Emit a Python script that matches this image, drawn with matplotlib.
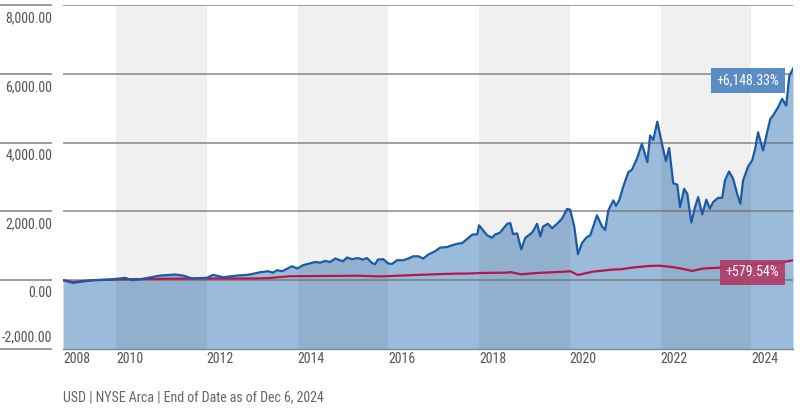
import os
import matplotlib
matplotlib.use("Agg")
import matplotlib.pyplot as plt
from matplotlib import font_manager
from matplotlib.font_manager import FontProperties

# ---------------- data ----------------
fund_dates = [2008.83, 2008.94, 2009.05, 2009.20, 2009.49, 2009.87, 2010.09, 2010.20, 2010.35, 2010.59,
              2010.97, 2011.30, 2011.48, 2011.67, 2012.00, 2012.14, 2012.36, 2012.67, 2012.89, 2013.02,
              2013.17, 2013.35, 2013.46, 2013.55, 2013.66, 2013.88, 2013.99, 2014.12, 2014.39, 2014.50,
              2014.61, 2014.72, 2014.83, 2015.00, 2015.09, 2015.20, 2015.33, 2015.44, 2015.53, 2015.64,
              2015.71, 2015.77, 2015.89, 2016.00, 2016.08, 2016.19, 2016.33, 2016.44, 2016.55, 2016.66,
              2016.77, 2016.88, 2017.03, 2017.14, 2017.30, 2017.36, 2017.52, 2017.63, 2017.85, 2017.96,
              2018.00, 2018.18, 2018.29, 2018.35, 2018.46, 2018.62, 2018.69, 2018.75, 2018.84, 2018.93,
              2019.02, 2019.13, 2019.19, 2019.28, 2019.35, 2019.41, 2019.52, 2019.61, 2019.72, 2019.83,
              2019.94, 2020.01, 2020.10, 2020.18, 2020.27, 2020.38, 2020.45, 2020.60, 2020.71, 2020.78,
              2020.85, 2020.96, 2021.02, 2021.09, 2021.18, 2021.29, 2021.37, 2021.48, 2021.59, 2021.71,
              2021.77, 2021.84, 2021.93, 2022.04, 2022.12, 2022.19, 2022.28, 2022.37, 2022.43, 2022.52,
              2022.59, 2022.68, 2022.76, 2022.83, 2022.92, 2023.01, 2023.09, 2023.16, 2023.27, 2023.36,
              2023.42, 2023.51, 2023.60, 2023.69, 2023.76, 2023.82, 2023.93, 2024.02, 2024.09, 2024.15,
              2024.26, 2024.35, 2024.42, 2024.48, 2024.59, 2024.68, 2024.77, 2024.84, 2024.92]
fund_values = [0, -40, -80, -50, 0, 20, 50, 70, 0, 40,
               135, 165, 135, 50, 70, 155, 85, 135, 155, 185,
               230, 260, 220, 290, 260, 405, 340, 435, 530, 510,
               560, 530, 630, 550, 660, 610, 645, 600, 645, 500,
               465, 600, 610, 485, 470, 580, 580, 630, 695, 695,
               630, 745, 840, 945, 965, 995, 1060, 1080, 1325, 1335,
               1595, 1305, 1235, 1325, 1380, 1640, 1660, 1340, 1360, 900,
               1235, 1340, 1420, 1640, 1275, 1560, 1640, 1510, 1640, 1790,
               2070, 2050, 1545, 755, 1080, 1260, 1300, 1885, 1565, 1460,
               2030, 2320, 2160, 2330, 2725, 3140, 3210, 3530, 3965, 3430,
               4205, 4080, 4610, 3915, 3460, 3845, 2820, 2775, 2125, 2655,
               2510, 1675, 2125, 2415, 1915, 2340, 2080, 2270, 2395, 2395,
               2900, 3160, 2950, 2510, 2225, 2900, 3305, 3480, 3845, 4300,
               3770, 4300, 4690, 4785, 5025, 5270, 5075, 5945, 6148.33]

index_dates = [2008.83, 2009.05, 2009.49, 2010.31, 2011.85, 2013.06, 2013.35, 2013.83, 2015.33, 2015.82,
               2016.48, 2017.08, 2017.47, 2017.80, 2018.02, 2018.62, 2018.69, 2018.93, 2019.28, 2019.85,
               2020.01, 2020.18, 2020.51, 2020.67, 2020.96, 2021.11, 2021.40, 2021.77, 2021.99, 2022.21,
               2022.43, 2022.70, 2022.94, 2023.38, 2023.60, 2023.91, 2024.26, 2024.64, 2024.92]
index_values = [0, -50, 0, 30, 50, 50, 60, 115, 130, 110,
                145, 175, 190, 195, 210, 220, 235, 170, 210, 245,
                260, 150, 250, 270, 310, 315, 370, 415, 420, 390,
                345, 270, 340, 370, 405, 435, 480, 510, 579.54]

y_ticks = [-2000, 0, 2000, 4000, 6000, 8000]
y_tick_labels = ["-2,000.00", "0.00", "2,000.00", "4,000.00", "6,000.00", "8,000.00"]
x_ticks = [2008.83, 2010, 2012, 2014, 2016, 2018, 2020, 2022, 2024]
x_tick_labels = ["2008", "2010", "2012", "2014", "2016", "2018", "2020", "2022", "2024"]
band_starts = [2010, 2014, 2018, 2022]
fund_label = "+6,148.33%"
index_label = "+579.54%"
footer = "USD | NYSE Arca | End of Date as of Dec 6, 2024"

# ---------------- font: prefer a condensed face ----------------
files = [f.fname for f in font_manager.fontManager.ttflist]
preferred = ["RobotoCondensed-Regular", "LiberationSansNarrow-Regular", "DejaVuSansCondensed.",
             "NotoSans-Condensed.", "NotoSans-CondensedRegular", "OpenSans-CondensedRegular",
             "OpenSans_Condensed-Regular", "NotoSansDisplay-Condensed."]
font_file = None
for p in preferred:
    for fn in files:
        if p in os.path.basename(fn):
            font_file = fn
            break
    if font_file:
        break
if font_file is None:
    bad = ("Bold", "Italic", "Oblique", "Light", "Thin", "Medium", "Black", "Semi", "Extra", "Ultra")
    for fn in files:
        b = os.path.basename(fn)
        if ("Condensed" in b or "Narrow" in b) and not any(k in b for k in bad):
            font_file = fn
            break


def fp(size):
    if font_file:
        return FontProperties(fname=font_file, size=size)
    return FontProperties(family="Roboto", size=size * 0.88)


W, H = 800, 409
fig = plt.figure(figsize=(W / 100, H / 100), dpi=100)
ax = fig.add_axes([63 / W, (H - 349) / H, 730 / W, 344 / H])
ax.set_xlim(x_ticks[0], fund_dates[-1])
ax.set_ylim(-2000, 8000)

blue = "#1b5aa6"
red = "#b8154a"
fill = "#9bbbdb"
text_col = "#555555"

ax.fill_between(fund_dates, -2000, fund_values, color=fill, lw=0, zorder=1)
for b in band_starts:
    ax.axvspan(b, b + 2, color="black", alpha=0.06, lw=0, zorder=2)
for v in y_ticks[1:]:
    ax.axhline(v, color="#6e6e6e", lw=1.2, alpha=0.75, zorder=3)
ax.plot(fund_dates, fund_values, color=blue, lw=1.6, zorder=5, solid_joinstyle="round")
ax.plot(index_dates, index_values, color=red, lw=1.6, zorder=4, solid_joinstyle="round")

# left-margin grid stubs and y labels
ax.hlines(y_ticks, -63 / 730, -11 / 730, transform=ax.get_yaxis_transform(),
          color="#8a8a8a", lw=1.2, clip_on=False)
ax.set_yticks([])
for v, lab in zip(y_ticks, y_tick_labels):
    if v == y_ticks[0]:
        off, va = (-11, 5), "bottom"
    else:
        off, va = (-11, -6), "top"
    ax.annotate(lab, xy=(0, v), xycoords=("axes fraction", "data"), xytext=off,
                textcoords="offset pixels", ha="right", va=va, color=text_col,
                fontproperties=fp(10))

ax.set_xticks(x_ticks)
ax.set_xticklabels(x_tick_labels, ha="left", color=text_col)
for t in ax.get_xticklabels():
    t.set_fontproperties(fp(10))
ax.tick_params(axis="x", length=0, pad=2)

for s in ["top", "left", "right"]:
    ax.spines[s].set_visible(False)
ax.spines["bottom"].set_color("#7d8a99")
ax.spines["bottom"].set_linewidth(1.0)

# end labels
ax.annotate(fund_label, xy=(fund_dates[-1], fund_values[-1]), xytext=(-14, -5),
            textcoords="offset pixels", ha="right", va="top", color="white", fontproperties=fp(10),
            bbox=dict(boxstyle="square,pad=0.4", fc="#5b8dc5", ec="none"), zorder=6)
ax.annotate(index_label, xy=(index_dates[-1], index_values[-1]), xytext=(-14, -5),
            textcoords="offset pixels", ha="right", va="top", color="white", fontproperties=fp(10),
            bbox=dict(boxstyle="square,pad=0.4", fc="#b23a66", ec="none", alpha=0.9), zorder=6)

fig.text(63 / W, 5 / H, footer, ha="left", va="bottom", color="#666666", fontproperties=fp(10))

fig.savefig("out.png", dpi=100)
